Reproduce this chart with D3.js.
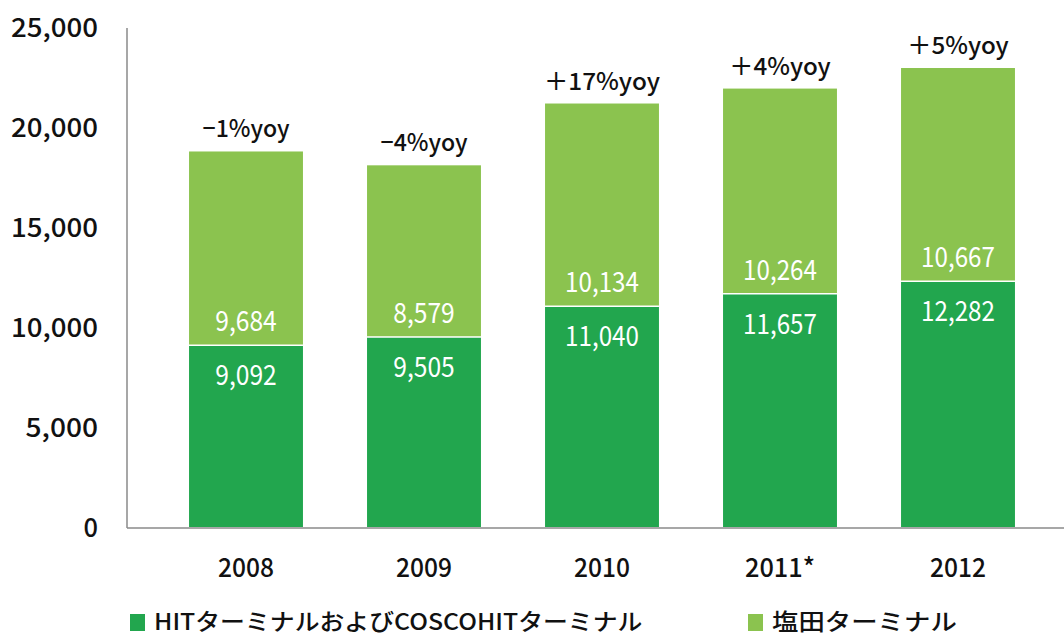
<!DOCTYPE html>
<html>
<head>
<meta charset="utf-8">
<script src="https://cdn.jsdelivr.net/npm/d3@7"></script>
<style>
  body { margin: 0; background: #fff; }
  text { font-family: "Noto Sans CJK JP", "DejaVu Sans", sans-serif; }
</style>
</head>
<body>
<div id="chart"></div>
<script>
// chart data
var years = ['2008', '2009', '2010', '2011*', '2012']
var hitCosco = [9092, 9505, 11040, 11657, 12282]
var yantian = [9684, 8579, 10134, 10264, 10667]
var yoyLabels = ['−1%yoy', '−4%yoy', '＋17%yoy', '＋4%yoy', '＋5%yoy']
var yTicks = [0, 5000, 10000, 15000, 20000, 25000]
var seriesNames = ['HITターミナルおよびCOSCOHITターミナル', '塩田ターミナル']

// layout settings
var chart = {}
chart.width = 1064
chart.height = 637
chart.colors = ['#22a64e', '#8bc34f']
chart.fmt = d3.format(',')

// width of one character, wide chars (kana, kanji, ＋) count double
function textUnits (s) {
  var n = 0
  for (var i = 0; i < s.length; i++) {
    n += s.charCodeAt(i) > 0x2000 && s[i] !== '−' ? 2 : 1
  }
  return n
}

var svg = d3.select('#chart')
  .append('svg')
  .attr('width', chart.width)
  .attr('height', chart.height)

chart.x = d3.scaleBand()
  .domain(years)
  .range([157, 1047])
  .paddingInner(0.36)
  .paddingOuter(0.18)

chart.y = d3.scaleLinear()
  .domain([0, 25000])
  .range([527, 27])

// y axis labels (no tick marks)
var yAxis = d3.axisLeft(chart.y).tickValues(yTicks).tickFormat(chart.fmt).tickSize(0).tickPadding(0)
svg.append('g')
  .attr('transform', 'translate(98,0)')
  .call(yAxis)
  .call(function (g) { g.select('.domain').remove() })
  .selectAll('text')
  .attr('fill', '#111')
  .attr('font-size', 26)
  .attr('font-weight', 500)
  .attr('dy', '0.36em')
  .attr('textLength', function (d) { return chart.fmt(d).length * 14.5 })
  .attr('lengthAdjust', 'spacingAndGlyphs')
  .style('font-family', '"Noto Sans CJK JP", sans-serif')

// stacked bars
var stack = years.map(function (yr, i) {
  return { year: yr, a: hitCosco[i], b: yantian[i], yoy: yoyLabels[i] }
})

var gBars = svg.append('g')
gBars.selectAll('rect.hit')
  .data(stack)
  .enter()
  .append('rect')
  .attr('class', 'hit')
  .attr('x', function (d) { return chart.x(d.year) })
  .attr('y', function (d) { return chart.y(d.a) })
  .attr('width', chart.x.bandwidth())
  .attr('height', function (d) { return chart.y(0) - chart.y(d.a) })
  .attr('fill', chart.colors[0])

gBars.selectAll('rect.yt')
  .data(stack)
  .enter()
  .append('rect')
  .attr('class', 'yt')
  .attr('x', function (d) { return chart.x(d.year) })
  .attr('y', function (d) { return chart.y(d.a + d.b) })
  .attr('width', chart.x.bandwidth())
  .attr('height', function (d) { return chart.y(d.a) - chart.y(d.a + d.b) })
  .attr('fill', chart.colors[1])

// thin white line between segments
gBars.selectAll('line.sep')
  .data(stack)
  .enter()
  .append('line')
  .attr('x1', function (d) { return chart.x(d.year) })
  .attr('x2', function (d) { return chart.x(d.year) + chart.x.bandwidth() })
  .attr('y1', function (d) { return chart.y(d.a) })
  .attr('y2', function (d) { return chart.y(d.a) })
  .attr('stroke', '#fff')
  .attr('stroke-width', 1.5)

// axis lines
svg.append('line')
  .attr('x1', 127).attr('x2', 127)
  .attr('y1', chart.y(25000) + 1).attr('y2', chart.y(0) + 1)
  .attr('stroke', '#8a8a8a').attr('stroke-width', 1.5)
svg.append('line')
  .attr('x1', 127).attr('x2', 1064)
  .attr('y1', chart.y(0) + 1).attr('y2', chart.y(0) + 1)
  .attr('stroke', '#8a8a8a').attr('stroke-width', 1.5)

// value labels
var gLabels = svg.append('g').attr('text-anchor', 'middle')
gLabels.selectAll('text.va')
  .data(stack)
  .enter()
  .append('text')
  .attr('x', function (d) { return chart.x(d.year) + chart.x.bandwidth() / 2 })
  .attr('y', function (d) { return chart.y(d.a) + 40 })
  .attr('fill', '#fff')
  .attr('font-size', 28)
  .attr('textLength', function (d) { return chart.fmt(d.a).length * 12.3 })
  .attr('lengthAdjust', 'spacingAndGlyphs')
  .text(function (d) { return chart.fmt(d.a) })

gLabels.selectAll('text.vb')
  .data(stack)
  .enter()
  .append('text')
  .attr('x', function (d) { return chart.x(d.year) + chart.x.bandwidth() / 2 })
  .attr('y', function (d) { return chart.y(d.a) - 14 })
  .attr('fill', '#fff')
  .attr('font-size', 28)
  .attr('textLength', function (d) { return chart.fmt(d.b).length * 12.3 })
  .attr('lengthAdjust', 'spacingAndGlyphs')
  .text(function (d) { return chart.fmt(d.b) })

// year-on-year labels above the bars
gLabels.selectAll('text.yoy')
  .data(stack)
  .enter()
  .append('text')
  .attr('x', function (d) { return chart.x(d.year) + chart.x.bandwidth() / 2 })
  .attr('y', function (d) { return chart.y(d.a + d.b) - 14 })
  .attr('fill', '#111')
  .attr('font-size', 24)
  .attr('font-weight', 500)
  .attr('textLength', function (d) { return textUnits(d.yoy) * 14.5 })
  .attr('lengthAdjust', 'spacingAndGlyphs')
  .text(function (d) { return d.yoy })

// x axis labels
gLabels.selectAll('text.year')
  .data(years)
  .enter()
  .append('text')
  .attr('x', function (d) { return chart.x(d) + chart.x.bandwidth() / 2 })
  .attr('y', 577)
  .attr('fill', '#111')
  .attr('font-size', 26)
  .attr('font-weight', 500)
  .attr('textLength', function (d) { return d.length * 14 })
  .attr('lengthAdjust', 'spacingAndGlyphs')
  .text(function (d) { return d })

// legend
var legendX = [130, 748]
var gLegend = svg.append('g')
seriesNames.forEach(function (name, i) {
  gLegend.append('rect')
    .attr('x', legendX[i])
    .attr('y', 614)
    .attr('width', 15)
    .attr('height', 17)
    .attr('fill', chart.colors[i])
  gLegend.append('text')
    .attr('x', legendX[i] + 24)
    .attr('y', 630)
    .attr('fill', '#111')
    .attr('font-size', 23)
    .attr('font-weight', 500)
    .attr('textLength', textUnits(name) * 13.2)
    .attr('lengthAdjust', 'spacingAndGlyphs')
    .text(name)
})
</script>
</body>
</html>
